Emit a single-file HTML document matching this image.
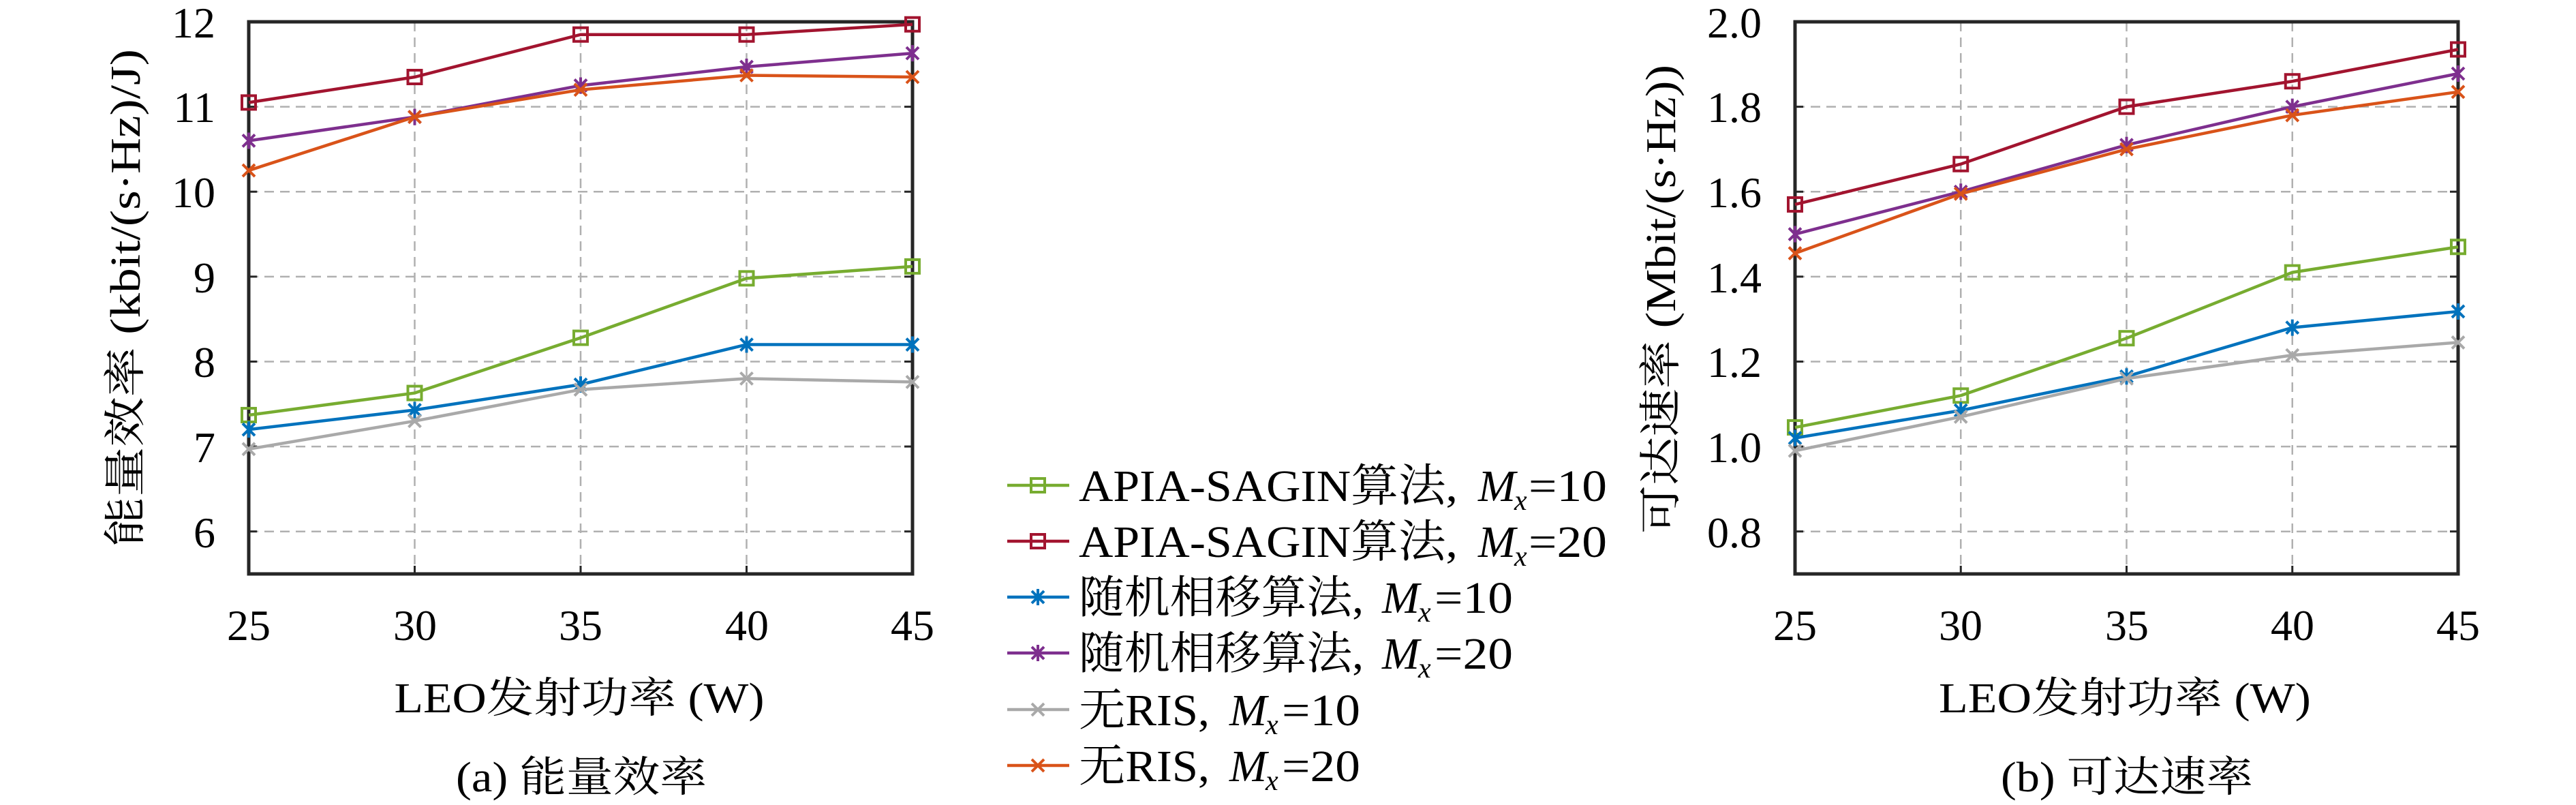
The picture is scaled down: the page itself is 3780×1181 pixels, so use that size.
<!DOCTYPE html>
<html><head><meta charset="utf-8"><style>
html,body{margin:0;padding:0;background:#fff;}
svg{display:block;}
text{font-family:"Liberation Serif","Noto Serif CJK SC","Noto Sans CJK SC",serif;fill:#000;}
</style></head><body>
<svg id="s" width="3780" height="1181" viewBox="0 0 3780 1181" xmlns="http://www.w3.org/2000/svg">
<g id="grid"></g>
<g id="series"></g>
<g font-size="64" text-anchor="end">
<text x="316" y="55">12</text><text x="316" y="179">11</text><text x="316" y="304">10</text>
<text x="316" y="429">9</text><text x="316" y="553">8</text><text x="316" y="678">7</text><text x="316" y="803">6</text>
</g>
<g font-size="64" text-anchor="middle">
<text x="365" y="939">25</text><text x="609" y="939">30</text><text x="852" y="939">35</text><text x="1096" y="939">40</text><text x="1339" y="939">45</text>
<text x="2634" y="939">25</text><text x="2877" y="939">30</text><text x="3121" y="939">35</text><text x="3364" y="939">40</text><text x="3607" y="939">45</text>
</g>
<g font-size="64" text-anchor="end">
<text x="2585" y="55">2.0</text><text x="2585" y="179">1.8</text><text x="2585" y="304">1.6</text>
<text x="2585" y="429">1.4</text><text x="2585" y="553">1.2</text><text x="2585" y="678">1.0</text><text x="2585" y="803">0.8</text>
</g>
<text x="850" y="1045" font-size="62" text-anchor="middle" textLength="543" lengthAdjust="spacingAndGlyphs">LEO发射功率 (W)</text>
<text x="3118" y="1045" font-size="62" text-anchor="middle" textLength="546" lengthAdjust="spacingAndGlyphs">LEO发射功率 (W)</text>
<text x="853" y="1161" font-size="62" text-anchor="middle" textLength="368" lengthAdjust="spacingAndGlyphs">(a) 能量效率</text>
<text x="3121" y="1161" font-size="62" text-anchor="middle" textLength="370" lengthAdjust="spacingAndGlyphs">(b) 可达速率</text>
<text transform="translate(205,437) rotate(-90)" font-size="62" text-anchor="middle" textLength="730" lengthAdjust="spacingAndGlyphs">能量效率 (kbit/(s·Hz)/J)</text>
<text transform="translate(2458,439) rotate(-90)" font-size="62" text-anchor="middle" textLength="688" lengthAdjust="spacingAndGlyphs">可达速率 (Mbit/(s·Hz))</text>
<g id="legend"></g>
<g font-size="66">
<text x="1583" y="735" textLength="556" lengthAdjust="spacingAndGlyphs">APIA-SAGIN算法,</text><text x="2169" y="735" font-style="italic">M</text><text x="2222" y="748" font-size="42" font-style="italic">x</text><text x="2243" y="735" textLength="115" lengthAdjust="spacingAndGlyphs">=10</text>
<text x="1583" y="817" textLength="556" lengthAdjust="spacingAndGlyphs">APIA-SAGIN算法,</text><text x="2169" y="817" font-style="italic">M</text><text x="2222" y="830" font-size="42" font-style="italic">x</text><text x="2243" y="817" textLength="115" lengthAdjust="spacingAndGlyphs">=20</text>
<text x="1583" y="899" textLength="418" lengthAdjust="spacingAndGlyphs">随机相移算法,</text><text x="2028" y="899" font-style="italic">M</text><text x="2081" y="912" font-size="42" font-style="italic">x</text><text x="2105" y="899" textLength="115" lengthAdjust="spacingAndGlyphs">=10</text>
<text x="1583" y="981" textLength="418" lengthAdjust="spacingAndGlyphs">随机相移算法,</text><text x="2028" y="981" font-style="italic">M</text><text x="2081" y="994" font-size="42" font-style="italic">x</text><text x="2105" y="981" textLength="115" lengthAdjust="spacingAndGlyphs">=20</text>
<text x="1583" y="1064" textLength="192" lengthAdjust="spacingAndGlyphs">无RIS,</text><text x="1804" y="1064" font-style="italic">M</text><text x="1857" y="1077" font-size="42" font-style="italic">x</text><text x="1881" y="1064" textLength="115" lengthAdjust="spacingAndGlyphs">=10</text>
<text x="1583" y="1146" textLength="192" lengthAdjust="spacingAndGlyphs">无RIS,</text><text x="1804" y="1146" font-style="italic">M</text><text x="1857" y="1159" font-size="42" font-style="italic">x</text><text x="1881" y="1146" textLength="115" lengthAdjust="spacingAndGlyphs">=20</text>
</g>
</svg>
<script>
var NS="http://www.w3.org/2000/svg";
function el(p,t,a){var e=document.createElementNS(NS,t);for(var k in a)e.setAttribute(k,a[k]);p.appendChild(e);return e;}
var grid=document.getElementById("grid"),ser=document.getElementById("series"),leg=document.getElementById("legend");
var cols=["#77AC30","#A2142F","#0072BD","#7E2F8E","#A9A9A9","#D95319"];
var mk=["sq","sq","ast","ast","x","x"];
function marker(p,x,y,t,c){
 if(t=="sq"){el(p,"rect",{x:x-10,y:y-10,width:20,height:20,fill:"none",stroke:c,"stroke-width":4});}
 else{var r=12;el(p,"path",{d:"M"+(x-r*0.75)+" "+(y-r*0.75)+"L"+(x+r*0.75)+" "+(y+r*0.75)+"M"+(x-r*0.75)+" "+(y+r*0.75)+"L"+(x+r*0.75)+" "+(y-r*0.75)+(t=="ast"?"M"+x+" "+(y-r)+"L"+x+" "+(y+r):""),stroke:c,"stroke-width":4,fill:"none"});}
}
var plots=[
 {L:365,R:1339,T:32,B:842,ymin:5.5,ymax:12,ticks:[6,7,8,9,10,11],data:[
 [7.37,7.63,8.28,8.98,9.12],[11.05,11.35,11.85,11.85,11.97],[7.2,7.43,7.73,8.2,8.2],
 [10.6,10.88,11.25,11.47,11.63],[6.97,7.3,7.67,7.8,7.76],[10.25,10.88,11.2,11.37,11.35]]},
 {L:2634,R:3607,T:32,B:842,ymin:0.7,ymax:2.0,ticks:[0.8,1.0,1.2,1.4,1.6,1.8],data:[
 [1.045,1.12,1.255,1.41,1.47],[1.57,1.665,1.8,1.86,1.935],[1.02,1.085,1.165,1.28,1.318],
 [1.5,1.6,1.71,1.8,1.878],[0.99,1.07,1.16,1.215,1.245],[1.455,1.595,1.70,1.78,1.835]]}];
plots.forEach(function(P){
 function X(i){return P.L+(P.R-P.L)*i/4;}
 function Y(v){return P.B-(P.B-P.T)*(v-P.ymin)/(P.ymax-P.ymin);}
 P.ticks.forEach(function(v){el(grid,"line",{x1:P.L,x2:P.R,y1:Y(v),y2:Y(v),stroke:"#b0b0b0","stroke-width":2.5,"stroke-dasharray":"14 9"});
   el(grid,"line",{x1:P.L,x2:P.L+12,y1:Y(v),y2:Y(v),stroke:"#262626","stroke-width":3});el(grid,"line",{x1:P.R-12,x2:P.R,y1:Y(v),y2:Y(v),stroke:"#262626","stroke-width":3});});
 for(var i=1;i<4;i++){el(grid,"line",{x1:X(i),x2:X(i),y1:P.T,y2:P.B,stroke:"#b0b0b0","stroke-width":2.5,"stroke-dasharray":"14 9"});
   el(grid,"line",{x1:X(i),x2:X(i),y1:P.B-12,y2:P.B,stroke:"#262626","stroke-width":3});}
 el(ser,"rect",{x:P.L,y:P.T,width:P.R-P.L,height:P.B-P.T,fill:"none",stroke:"#262626","stroke-width":5});
 P.data.forEach(function(d,k){
  var pts=d.map(function(v,i){return X(i)+","+Y(v);}).join(" ");
  el(ser,"polyline",{points:pts,fill:"none",stroke:cols[k],"stroke-width":4.5});
  d.forEach(function(v,i){marker(ser,X(i),Y(v),mk[k],cols[k]);});
 });
});
var ly=[712,794,876,958,1041,1123];
ly.forEach(function(y,k){el(leg,"line",{x1:1478,x2:1569,y1:y,y2:y,stroke:cols[k],"stroke-width":4.5});marker(leg,1523,y,mk[k],cols[k]);});
</script>
</body></html>
